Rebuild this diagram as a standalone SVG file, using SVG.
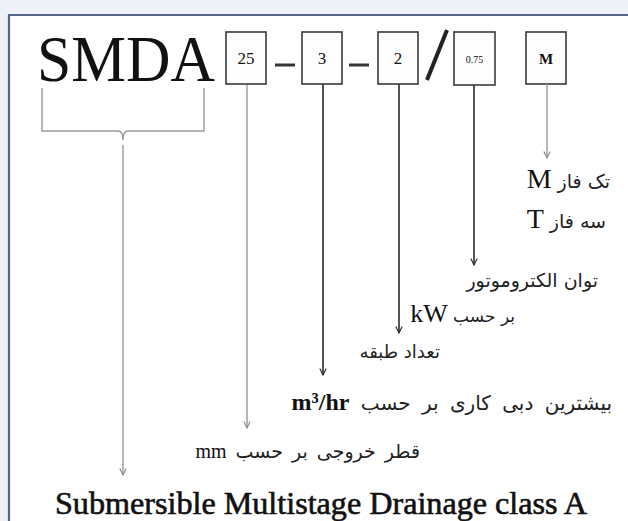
<svg xmlns="http://www.w3.org/2000/svg" width="628" height="521" viewBox="0 0 628 521">
<style>
.serif{font-family:"Liberation Serif","DejaVu Serif",serif;fill:#111}
.fa{font-family:"DejaVu Sans","Noto Sans",sans-serif;fill:#222}
.box{fill:#fdfdfd;stroke:#3a3a3a;stroke-width:1.6}
.dark{stroke:#2a2a2a;stroke-width:1.6;fill:none}
.light{stroke:#9a9a9a;stroke-width:1.4;fill:none}
.lat{font-family:"Liberation Serif","DejaVu Serif",serif;fill:#111}
</style>
<defs>
<marker id="ahd" viewBox="0 0 10 10" refX="9" refY="5" markerWidth="8" markerHeight="8" markerUnits="userSpaceOnUse" orient="auto">
<path d="M1,1 L9,5 L1,9" fill="none" stroke="#2a2a2a" stroke-width="1.4"/>
</marker>
<marker id="ahl" viewBox="0 0 10 10" refX="9" refY="5" markerWidth="8" markerHeight="8" markerUnits="userSpaceOnUse" orient="auto">
<path d="M1,1 L9,5 L1,9" fill="none" stroke="#8a8a8a" stroke-width="1.4"/>
</marker>
</defs>
<rect x="0" y="0" width="628" height="521" fill="#eef1f5"/>
<rect x="9" y="15" width="619" height="506" fill="#ffffff"/>
<path d="M9,521 L9,15 L628,15" fill="none" stroke="#56658a" stroke-width="2.2"/>

<g id="title">
<text class="serif" x="37" y="81" font-size="66" textLength="178" lengthAdjust="spacingAndGlyphs">SMDA</text>
</g>
<g id="box25"><rect class="box" x="226" y="32" width="40" height="52"/><text class="serif" x="246" y="64" font-size="17" text-anchor="middle">25</text></g>
<g id="dash1"><rect x="275" y="63.5" width="20" height="3" fill="#333"/></g>
<g id="box3"><rect class="box" x="302" y="32" width="40" height="52"/><text class="serif" x="322" y="64" font-size="17" text-anchor="middle">3</text></g>
<g id="dash2"><rect x="349" y="63.5" width="20" height="3" fill="#333"/></g>
<g id="box2"><rect class="box" x="378" y="32" width="40" height="52"/><text class="serif" x="398" y="64" font-size="17" text-anchor="middle">2</text></g>
<g id="slash"><line x1="427" y1="80" x2="447" y2="30" stroke="#222" stroke-width="4"/></g>
<g id="box075"><rect class="box" x="454" y="32" width="41" height="53"/><text class="serif" x="474.5" y="63" font-size="10" text-anchor="middle">0.75</text></g>
<g id="boxM"><rect class="box" x="526" y="32" width="40" height="52"/><text class="serif" x="546" y="64" font-size="15" font-weight="bold" text-anchor="middle">M</text></g>

<g id="connectors">
<path class="light" d="M42,88 L42,131 L118,131 Q123,131 123,140 Q123,131 128,131 L204,131 L204,88"/>
<line class="light" x1="123" y1="145" x2="123" y2="475" marker-end="url(#ahl)"/>
<line class="light" x1="247" y1="85" x2="247" y2="428" marker-end="url(#ahl)"/>
<line class="dark" x1="323" y1="84" x2="323" y2="375" marker-end="url(#ahd)"/>
<line class="dark" x1="399" y1="84" x2="399" y2="333" marker-end="url(#ahd)"/>
<line class="dark" x1="474" y1="85" x2="474" y2="265" marker-end="url(#ahd)"/>
<line class="light" x1="547" y1="84" x2="547" y2="158" marker-end="url(#ahl)"/>
</g>

<g id="label-M"><text class="fa" x="610" y="188" font-size="19" text-anchor="end"><tspan class="lat" font-size="28">M</tspan> تک فاز</text></g>
<g id="label-T"><text class="fa" x="606" y="228" font-size="19" text-anchor="end"><tspan class="lat" font-size="28">T</tspan> سه فاز</text></g>
<g id="label-power"><text class="fa" x="598" y="287" font-size="19" text-anchor="end">توان الکتروموتور</text>
<text class="fa" x="515" y="322" font-size="17" text-anchor="end"><tspan class="lat" font-size="26">kW</tspan> بر حسب</text></g>
<g id="label-stages"><text class="fa" x="440" y="358" font-size="18" text-anchor="end">تعداد طبقه</text></g>
<g id="label-flow"><text class="fa" x="612" y="410" font-size="20" word-spacing="5" text-anchor="end"><tspan class="lat" font-size="24" font-weight="bold" word-spacing="0">m³/hr</tspan> بیشترین دبی کاری بر حسب</text></g>
<g id="label-dia"><text class="fa" x="420" y="458" font-size="19" word-spacing="3" text-anchor="end"><tspan class="lat" font-size="20" word-spacing="0">mm</tspan> قطر خروجی بر حسب</text></g>
<g id="label-name"><text class="serif" x="55" y="514" font-size="31" stroke="#111" stroke-width="0.6" textLength="532" lengthAdjust="spacingAndGlyphs">Submersible Multistage Drainage class A</text></g>
</svg>
